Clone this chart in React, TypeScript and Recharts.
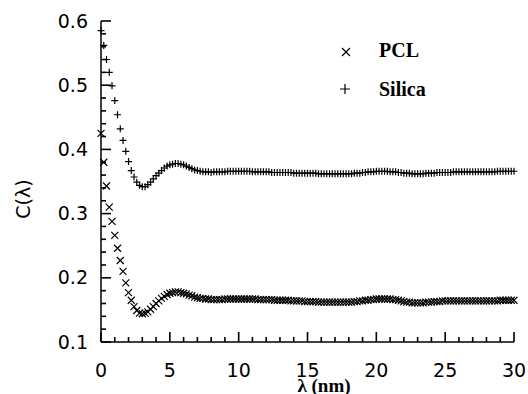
import React from 'react';
import { ScatterChart, Scatter, XAxis, YAxis, Label } from 'recharts';

// sampling positions (nm)
const lambda = [
  0, 0.2, 0.4, 0.6, 0.8, 1, 1.2, 1.4, 1.6, 1.8,
  2, 2.2, 2.4, 2.6, 2.8, 3, 3.2, 3.4, 3.6, 3.8,
  4, 4.2, 4.4, 4.6, 4.8, 5, 5.2, 5.4, 5.6, 5.8,
  6, 6.2, 6.4, 6.6, 6.8, 7, 7.2, 7.4, 7.6, 7.8,
  8, 8.2, 8.4, 8.6, 8.8, 9, 9.2, 9.4, 9.6, 9.8,
  10, 10.2, 10.4, 10.6, 10.8, 11, 11.2, 11.4, 11.6, 11.8,
  12, 12.2, 12.4, 12.6, 12.8, 13, 13.2, 13.4, 13.6, 13.8,
  14, 14.2, 14.4, 14.6, 14.8, 15, 15.2, 15.4, 15.6, 15.8,
  16, 16.2, 16.4, 16.6, 16.8, 17, 17.2, 17.4, 17.6, 17.8,
  18, 18.2, 18.4, 18.6, 18.8, 19, 19.2, 19.4, 19.6, 19.8,
  20, 20.2, 20.4, 20.6, 20.8, 21, 21.2, 21.4, 21.6, 21.8,
  22, 22.2, 22.4, 22.6, 22.8, 23, 23.2, 23.4, 23.6, 23.8,
  24, 24.2, 24.4, 24.6, 24.8, 25, 25.2, 25.4, 25.6, 25.8,
  26, 26.2, 26.4, 26.6, 26.8, 27, 27.2, 27.4, 27.6, 27.8,
  28, 28.2, 28.4, 28.6, 28.8, 29, 29.2, 29.4, 29.6, 29.8,
  30,
];

const pcl = [
  0.425, 0.38, 0.343, 0.31, 0.288, 0.266, 0.246, 0.227, 0.21, 0.192,
  0.177, 0.165, 0.155, 0.149, 0.145, 0.144, 0.145, 0.147, 0.151, 0.155,
  0.16, 0.164, 0.168, 0.171, 0.174, 0.176, 0.177, 0.178, 0.178, 0.177,
  0.176, 0.175, 0.173, 0.172, 0.17, 0.169, 0.168, 0.168, 0.167, 0.167,
  0.166, 0.166, 0.166, 0.166, 0.166, 0.167, 0.167, 0.167, 0.167, 0.167,
  0.167, 0.167, 0.167, 0.167, 0.167, 0.167, 0.167, 0.166, 0.166, 0.166,
  0.166, 0.166, 0.166, 0.165, 0.165, 0.165, 0.165, 0.165, 0.165, 0.164,
  0.164, 0.164, 0.164, 0.164, 0.163, 0.163, 0.163, 0.163, 0.163, 0.162,
  0.162, 0.162, 0.162, 0.162, 0.162, 0.162, 0.162, 0.162, 0.162, 0.162,
  0.162, 0.162, 0.163, 0.163, 0.164, 0.164, 0.165, 0.165, 0.166, 0.166,
  0.167, 0.167, 0.167, 0.167, 0.167, 0.167, 0.166, 0.166, 0.165, 0.164,
  0.163, 0.162, 0.162, 0.161, 0.161, 0.161, 0.161, 0.161, 0.162, 0.162,
  0.162, 0.163, 0.163, 0.163, 0.164, 0.164, 0.164, 0.164, 0.164, 0.164,
  0.164, 0.164, 0.164, 0.164, 0.164, 0.164, 0.164, 0.164, 0.164, 0.164,
  0.164, 0.164, 0.164, 0.164, 0.164, 0.165, 0.165, 0.165, 0.165, 0.165,
  0.165,
];

const silica = [
  0.585, 0.562, 0.54, 0.52, 0.499, 0.476, 0.454, 0.432, 0.414, 0.397,
  0.381, 0.367, 0.357, 0.349, 0.344, 0.342, 0.342, 0.345, 0.349, 0.354,
  0.359, 0.363, 0.367, 0.371, 0.374, 0.376, 0.377, 0.378, 0.378, 0.377,
  0.376, 0.374, 0.372, 0.37, 0.368, 0.367, 0.366, 0.365, 0.365, 0.365,
  0.364, 0.365, 0.365, 0.365, 0.365, 0.365, 0.366, 0.366, 0.366, 0.366,
  0.366, 0.366, 0.366, 0.366, 0.366, 0.365, 0.365, 0.365, 0.365, 0.365,
  0.365, 0.365, 0.364, 0.364, 0.364, 0.364, 0.364, 0.364, 0.364, 0.364,
  0.363, 0.363, 0.363, 0.363, 0.363, 0.363, 0.363, 0.363, 0.363, 0.362,
  0.362, 0.362, 0.362, 0.362, 0.362, 0.362, 0.362, 0.362, 0.362, 0.362,
  0.362, 0.362, 0.363, 0.363, 0.363, 0.364, 0.364, 0.365, 0.365, 0.365,
  0.366, 0.366, 0.366, 0.366, 0.366, 0.365, 0.365, 0.365, 0.364, 0.364,
  0.363, 0.363, 0.363, 0.362, 0.362, 0.362, 0.362, 0.362, 0.363, 0.363,
  0.363, 0.363, 0.364, 0.364, 0.364, 0.364, 0.364, 0.364, 0.365, 0.365,
  0.365, 0.365, 0.365, 0.365, 0.365, 0.365, 0.365, 0.365, 0.365, 0.365,
  0.365, 0.365, 0.365, 0.365, 0.366, 0.366, 0.366, 0.366, 0.366, 0.366,
  0.366,
];

const xTicks = [
  0, 1, 2, 3, 4, 5, 6, 7, 8, 9, 10, 11, 12, 13, 14, 15,
  16, 17, 18, 19, 20, 21, 22, 23, 24, 25, 26, 27, 28, 29, 30,
];
const yTicks = [
  0.1, 0.12, 0.14, 0.16, 0.18, 0.2, 0.22, 0.24, 0.26, 0.28, 0.3, 0.32, 0.34,
  0.36, 0.38, 0.4, 0.42, 0.44, 0.46, 0.48, 0.5, 0.52, 0.54, 0.56, 0.58, 0.6,
];

const pclData = lambda.map((x, i) => ({ x, y: pcl[i] }));
const silicaData = lambda.map((x, i) => ({ x, y: silica[i] }));

const sans = '"DejaVu Sans", sans-serif';
const serif = '"Liberation Serif", "Times New Roman", serif';

const XMark = (props: any) => {
  const { cx, cy } = props;
  const s = 3.5;
  return (
    <path
      d={`M${cx - s},${cy - s}L${cx + s},${cy + s}M${cx - s},${cy + s}L${cx + s},${cy - s}`}
      stroke="#000"
      strokeWidth={1.2}
      fill="none"
    />
  );
};

const PlusMark = (props: any) => {
  const { cx, cy } = props;
  const s = 3.5;
  return (
    <path
      d={`M${cx - s},${cy}L${cx + s},${cy}M${cx},${cy - s}L${cx},${cy + s}`}
      stroke="#000"
      strokeWidth={1.2}
      fill="none"
    />
  );
};

// inward ticks, labels only on the major ones
const YTick = (props: any) => {
  const { x, y, payload } = props;
  const v = payload.value;
  const major = Math.abs(v * 10 - Math.round(v * 10)) < 1e-6;
  const len = major ? 10 : 5;
  return (
    <g>
      <rect x={x} y={y - 0.8} width={len} height={1.6} fill="#000" />
      {major && (
        <text x={x - 13} y={y + 6.5} textAnchor="end" fontFamily={sans} fontSize={19} fill="#000">
          {v.toFixed(1)}
        </text>
      )}
    </g>
  );
};

const XTick = (props: any) => {
  const { x, y, payload } = props;
  const v = payload.value;
  const major = v % 5 === 0;
  const len = major ? 10 : 5;
  return (
    <g>
      <rect x={x - 0.8} y={y - len} width={1.6} height={len} fill="#000" />
      {major && (
        <text x={x} y={y + 34.5} textAnchor="middle" fontFamily={sans} fontSize={19} fill="#000">
          {v}
        </text>
      )}
    </g>
  );
};

const App: React.FC = () => {
  return (
    <div style={{ position: 'fixed', left: 0, top: 0, width: 528, height: 394, background: '#fff' }}>
      <ScatterChart width={528} height={394} margin={{ top: 21, right: 14, bottom: 0, left: 0 }}>
        <XAxis
          type="number"
          dataKey="x"
          domain={[0, 30]}
          ticks={xTicks}
          interval={0}
          tickSize={0}
          tickMargin={0}
          tickLine={false}
          tick={(p: any) => <XTick {...p} />}
          height={52}
          axisLine={{ stroke: '#000', strokeWidth: 1.5 }}
        >
          <Label
            content={() => (
              <text x={324} y={392} textAnchor="middle" fontFamily={serif} fontWeight="bold" fontSize={19} fill="#000">
                λ (nm)
              </text>
            )}
          />
        </XAxis>
        <YAxis
          type="number"
          dataKey="y"
          domain={[0.1, 0.6]}
          ticks={yTicks}
          interval={0}
          tickSize={0}
          tickMargin={0}
          tickLine={false}
          tick={(p: any) => <YTick {...p} />}
          width={101}
          axisLine={{ stroke: '#000', strokeWidth: 1.5 }}
        >
          <Label
            content={() => (
              <text
                x={23}
                y={199}
                transform="rotate(-90 23 199)"
                textAnchor="middle"
                dominantBaseline="central"
                fontFamily={sans}
                fontSize={19}
                fill="#000"
              >
                C(λ)
              </text>
            )}
          />
        </YAxis>
        <Scatter name="PCL" data={pclData} shape={<XMark />} isAnimationActive={false} />
        <Scatter name="Silica" data={silicaData} shape={<PlusMark />} isAnimationActive={false} />
      </ScatterChart>
      <svg width={140} height={100} style={{ position: 'absolute', left: 328, top: 28 }}>
        <path d="M14,20L22,28M14,28L22,20" stroke="#000" strokeWidth={1.2} fill="none" />
        <text x={51} y={29} fontFamily={serif} fontWeight="bold" fontSize={20} fill="#000">PCL</text>
        <path d="M12,61L22,61M17,56L17,66" stroke="#000" strokeWidth={1.2} fill="none" />
        <text x={51} y={68} fontFamily={serif} fontWeight="bold" fontSize={20} fill="#000">Silica</text>
      </svg>
    </div>
  );
};

export default App;
